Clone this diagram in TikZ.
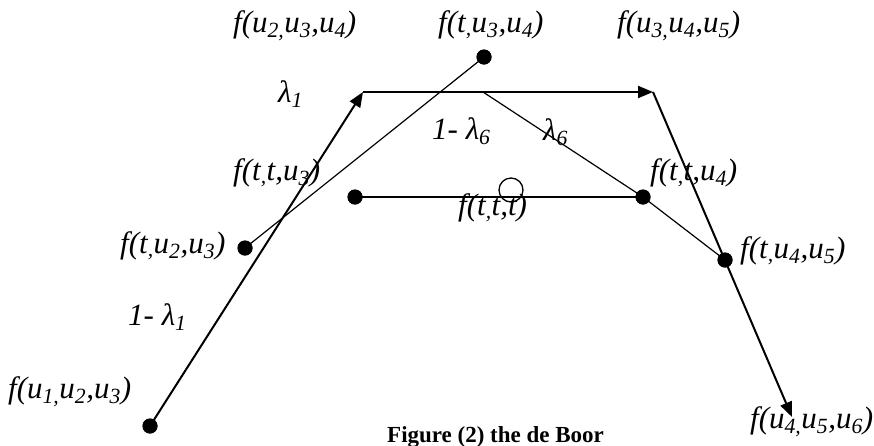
\documentclass[tikz,border=0pt]{standalone}
\usepackage{fontspec}
\setmainfont{Liberation Serif}
\usetikzlibrary{arrows.meta}
\newcommand{\sbs}[1]{\textsubscript{#1}}
\begin{document}
\begin{tikzpicture}[x=1pt,y=-1pt,
  poly/.style={line width=2pt,-{Triangle[length=15pt,width=12pt]}},
  thinline/.style={line width=1.2pt},
  midline/.style={line width=2pt},
  dot/.style={circle,fill=black,inner sep=0pt,minimum size=15pt},
  hollow/.style={circle,draw=black,line width=1.3pt,fill=none,inner sep=0pt,minimum size=24pt},
  lbl/.style={anchor=base west,inner sep=0pt,font=\fontsize{31}{36}\selectfont\itshape},
  captionstyle/.style={anchor=base west,inner sep=0pt,font=\fontsize{23}{27}\selectfont\bfseries}
]
\useasboundingbox (0,0) rectangle (874,445);
% control polygon corners
\coordinate (B) at (363,92);
\coordinate (C) at (653,92);
\coordinate (D) at (792,417);
\coordinate (G) at (483,92);
% dots
\node[dot] (A) at (150,426) {};
\node[dot] (E) at (245,248) {};
\node[dot] (F) at (484,57) {};
\node[dot] (H) at (643,197) {};
\node[dot] (I) at (725,260) {};
\node[dot] (J) at (355,197) {};
% lines
\draw[poly] (A.center) -- (B);
\draw[poly] (B) -- (C);
\draw[poly] (C) -- (D);
\draw[thinline] (E.center) -- (F.center);
\draw[thinline] (G) -- (H.center) -- (I.center);
\draw[midline] (J.center) -- (H.center);
\node[hollow] (K) at (511,190) {};
% redraw dots on top
\node[dot] at (A) {};
\node[dot] at (E) {};
\node[dot] at (F) {};
\node[dot] at (H) {};
\node[dot] at (I) {};
\node[dot] at (J) {};
% labels
\node[lbl] (l1) at (233,32) {f(u\sbs{2,}u\sbs{3},u\sbs{4})};
\node[lbl] (l2) at (438,32) {f(t\sbs{,}u\sbs{3},u\sbs{4})};
\node[lbl] (l3) at (617,32) {f(u\sbs{3,}u\sbs{4},u\sbs{5})};
\node[lbl] (l4) at (278,102) {λ\sbs{1}};
\node[lbl] (l5) at (432,139) {1- λ\sbs{6}};
\node[lbl] (l6) at (543,140) {λ\sbs{6}};
\node[lbl] (l7) at (233,180) {f(t\sbs{,}t,u\sbs{3})};
\node[lbl] (l8) at (458,215) {f(t\sbs{,}t,t)};
\node[lbl] (l9) at (650,180) {f(t\sbs{,}t,u\sbs{4})};
\node[lbl] (l10) at (120,253) {f(t\sbs{,}u\sbs{2},u\sbs{3})};
\node[lbl] (l11) at (128,325) {1- λ\sbs{1}};
\node[lbl] (l12) at (8,398) {f(u\sbs{1,}u\sbs{2},u\sbs{3})};
\node[lbl] (l13) at (740,258) {f(t\sbs{,}u\sbs{4},u\sbs{5})};
\node[lbl] (l14) at (750,428) {f(u\sbs{4,}u\sbs{5},u\sbs{6})};
\node[captionstyle] (capt) at (387,442) {Figure (2) the de Boor};
\end{tikzpicture}
\end{document}
